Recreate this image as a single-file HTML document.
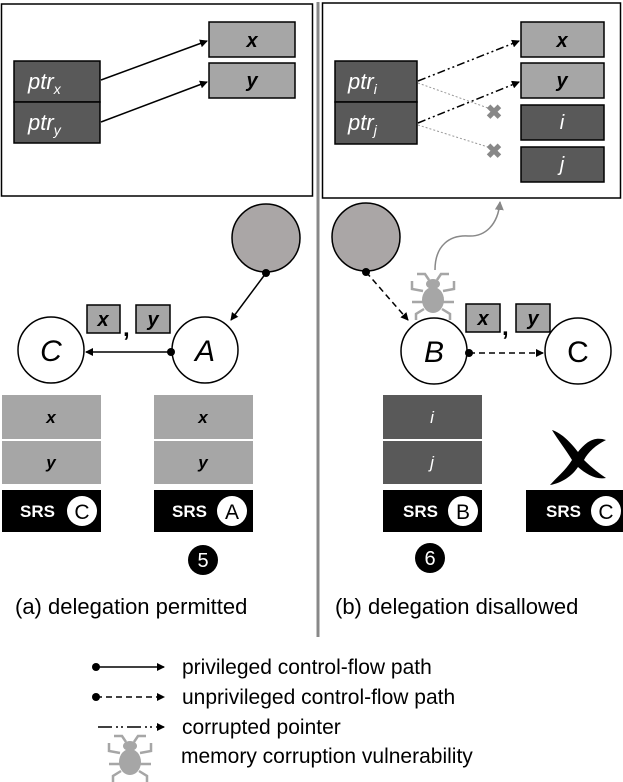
<!DOCTYPE html>
<html><head><style>
body{margin:0;background:#fff}
svg{display:block}
text{font-family:"Liberation Sans",sans-serif}
.it{font-style:italic;font-weight:bold}
</style></head><body>
<svg width="623" height="782" viewBox="0 0 623 782" xmlns="http://www.w3.org/2000/svg">
<defs>
<marker id="ah" markerWidth="8" markerHeight="8" refX="7" refY="4" orient="auto" markerUnits="userSpaceOnUse"><path d="M0,0 L8,4 L0,8 z" fill="#000"/></marker>
<marker id="ag" markerWidth="9" markerHeight="9" refX="8" refY="4.5" orient="auto" markerUnits="userSpaceOnUse"><path d="M0,0 L9,4.5 L0,9 z" fill="#888"/></marker>
<g id="bug" fill="#a6a6a6" stroke="#a6a6a6">
<ellipse cx="0" cy="-12" rx="7" ry="5" stroke="none"/>
<ellipse cx="0" cy="4" rx="11" ry="13" stroke="none"/>
<path d="M-4,-16 L-8,-22 L-16,-22 M4,-16 L8,-22 L16,-22 M-10,-5 L-21,-7 L-21,-15 M10,-5 L21,-7 L21,-15 M-10,6 L-21,6 M10,6 L21,6 M-9,13 L-17,18 L-17,24 M9,13 L17,18 L17,24" fill="none" stroke-width="2.5"/>
</g>
</defs>
<line x1="318" y1="2" x2="318" y2="637" stroke="#888" stroke-width="3"/>
<!-- left top box -->
<rect x="1.5" y="4" width="311" height="192" fill="#fff" stroke="#000" stroke-width="1.5"/>
<rect x="14" y="61" width="86" height="41" fill="#595959" stroke="#000" stroke-width="1.5"/>
<rect x="14" y="102" width="86" height="41" fill="#595959" stroke="#000" stroke-width="1.5"/>
<text x="28" y="89" fill="#fff" font-size="22" font-style="italic">ptr<tspan font-size="14" dy="5">x</tspan></text>
<text x="28" y="130" fill="#fff" font-size="22" font-style="italic">ptr<tspan font-size="14" dy="5">y</tspan></text>
<rect x="209" y="22" width="86" height="35" fill="#a6a6a6" stroke="#000" stroke-width="1.5"/>
<rect x="209" y="63" width="86" height="35" fill="#a6a6a6" stroke="#000" stroke-width="1.5"/>
<text x="252" y="47" class="it" font-size="20" text-anchor="middle">x</text>
<text x="252" y="87" class="it" font-size="20" text-anchor="middle">y</text>
<line x1="101" y1="80" x2="207" y2="41" stroke="#000" stroke-width="1.5" marker-end="url(#ah)"/>
<line x1="101" y1="122" x2="207" y2="82" stroke="#000" stroke-width="1.5" marker-end="url(#ah)"/>
<!-- right top box -->
<rect x="322.5" y="3" width="298" height="195" fill="#fff" stroke="#000" stroke-width="1.5"/>
<rect x="335" y="61" width="82" height="41" fill="#595959" stroke="#000" stroke-width="1.5"/>
<rect x="335" y="102" width="82" height="42" fill="#595959" stroke="#000" stroke-width="1.5"/>
<text x="348" y="89" fill="#fff" font-size="22" font-style="italic">ptr<tspan font-size="14" dy="5">i</tspan></text>
<text x="348" y="130" fill="#fff" font-size="22" font-style="italic">ptr<tspan font-size="14" dy="5">j</tspan></text>
<rect x="521" y="22" width="83" height="35" fill="#a6a6a6" stroke="#000" stroke-width="1.5"/>
<rect x="521" y="63" width="83" height="35" fill="#a6a6a6" stroke="#000" stroke-width="1.5"/>
<rect x="521" y="105" width="83" height="35" fill="#595959" stroke="#000" stroke-width="1.5"/>
<rect x="521" y="147" width="83" height="35" fill="#595959" stroke="#000" stroke-width="1.5"/>
<text x="562" y="47" class="it" font-size="20" text-anchor="middle">x</text>
<text x="562" y="87" class="it" font-size="20" text-anchor="middle">y</text>
<text x="562" y="129" font-size="20" font-style="italic" fill="#fff" text-anchor="middle">i</text>
<text x="562" y="171" font-size="20" font-style="italic" fill="#fff" text-anchor="middle">j</text>
<line x1="418" y1="81" x2="519" y2="41" stroke="#000" stroke-width="1.5" stroke-dasharray="8,3,2,3,2,3" marker-end="url(#ah)"/>
<line x1="418" y1="123" x2="519" y2="82" stroke="#000" stroke-width="1.5" stroke-dasharray="8,3,2,3,2,3" marker-end="url(#ah)"/>
<line x1="418" y1="83" x2="488" y2="108" stroke="#999" stroke-width="1" stroke-dasharray="2,2"/>
<line x1="418" y1="125" x2="488" y2="147" stroke="#999" stroke-width="1" stroke-dasharray="2,2"/>
<text x="494" y="119" font-size="20" font-weight="bold" fill="#888" text-anchor="middle">✖</text>
<text x="494" y="158" font-size="20" font-weight="bold" fill="#888" text-anchor="middle">✖</text>
<!-- left graph -->
<circle cx="266" cy="238" r="34" fill="#aaa6a6" stroke="#000" stroke-width="1.5"/>
<circle cx="266" cy="273" r="4" fill="#000"/>
<line x1="266" y1="273" x2="231" y2="320" stroke="#000" stroke-width="1.5" marker-end="url(#ah)"/>
<circle cx="205" cy="350" r="33" fill="#fff" stroke="#000" stroke-width="1.5"/>
<circle cx="51" cy="350" r="33" fill="#fff" stroke="#000" stroke-width="1.5"/>
<text x="205" y="361" font-size="30" font-style="italic" text-anchor="middle">A</text>
<text x="51" y="361" font-size="30" font-style="italic" text-anchor="middle">C</text>
<circle cx="171" cy="352" r="4" fill="#000"/>
<line x1="171" y1="352" x2="86" y2="352" stroke="#000" stroke-width="1.5" marker-end="url(#ah)"/>
<rect x="87" y="305" width="33" height="28" fill="#a6a6a6" stroke="#000" stroke-width="1.5"/>
<rect x="136" y="305" width="34" height="28" fill="#a6a6a6" stroke="#000" stroke-width="1.5"/>
<text x="103" y="326" class="it" font-size="20" text-anchor="middle">x</text>
<text x="153" y="326" class="it" font-size="20" text-anchor="middle">y</text>
<text x="123" y="336" font-size="24" font-weight="bold">,</text>
<!-- right graph -->
<circle cx="366" cy="237" r="34" fill="#aaa6a6" stroke="#000" stroke-width="1.5"/>
<circle cx="366" cy="272" r="4" fill="#000"/>
<line x1="366" y1="272" x2="408" y2="320" stroke="#000" stroke-width="1.5" stroke-dasharray="6,4" marker-end="url(#ah)"/>
<circle cx="434" cy="351" r="33" fill="#fff" stroke="#000" stroke-width="1.5"/>
<circle cx="578" cy="351" r="33" fill="#fff" stroke="#000" stroke-width="1.5"/>
<text x="434" y="362" font-size="30" font-style="italic" text-anchor="middle">B</text>
<text x="578" y="362" font-size="30" text-anchor="middle">C</text>
<circle cx="469" cy="353" r="4" fill="#000"/>
<line x1="469" y1="353" x2="543" y2="353" stroke="#000" stroke-width="1.5" stroke-dasharray="6,4" marker-end="url(#ah)"/>
<rect x="466" y="304" width="34" height="28" fill="#a6a6a6" stroke="#000" stroke-width="1.5"/>
<rect x="516" y="304" width="34" height="28" fill="#a6a6a6" stroke="#000" stroke-width="1.5"/>
<text x="483" y="325" class="it" font-size="20" text-anchor="middle">x</text>
<text x="533" y="325" class="it" font-size="20" text-anchor="middle">y</text>
<text x="502" y="335" font-size="24" font-weight="bold">,</text>
<path d="M435,270 C435,245 450,235 468,236 C485,237 498,225 500,202" fill="none" stroke="#888" stroke-width="1.5" marker-end="url(#ag)"/>
<use href="#bug" x="433" y="296"/>
<!-- stacks -->
<g font-size="17">
<rect x="2" y="395" width="99" height="44" fill="#a6a6a6"/><rect x="2" y="441" width="99" height="43" fill="#a6a6a6"/>
<text x="51" y="423" class="it" text-anchor="middle">x</text><text x="51" y="468" class="it" text-anchor="middle">y</text>
<rect x="154" y="395" width="99" height="44" fill="#a6a6a6"/><rect x="154" y="441" width="99" height="43" fill="#a6a6a6"/>
<text x="203" y="423" class="it" text-anchor="middle">x</text><text x="203" y="468" class="it" text-anchor="middle">y</text>
<rect x="383" y="395" width="99" height="44" fill="#595959"/><rect x="383" y="441" width="99" height="43" fill="#595959"/>
<text x="432" y="423" fill="#fff" font-style="italic" text-anchor="middle">i</text><text x="432" y="468" fill="#fff" font-style="italic" text-anchor="middle">j</text>
</g>
<g font-size="17" font-weight="bold">
<rect x="2" y="490" width="99" height="42" fill="#000"/>
<text x="20" y="517" fill="#fff">SRS</text><circle cx="82" cy="511" r="15" fill="#fff"/><text x="82" y="519" font-size="21" font-weight="normal" text-anchor="middle">C</text>
<rect x="154" y="490" width="99" height="42" fill="#000"/>
<text x="172" y="517" fill="#fff">SRS</text><circle cx="232" cy="511" r="15" fill="#fff"/><text x="232" y="519" font-size="21" font-weight="normal" text-anchor="middle">A</text>
<rect x="383" y="490" width="99" height="42" fill="#000"/>
<text x="403" y="517" fill="#fff">SRS</text><circle cx="463" cy="511" r="15" fill="#fff"/><text x="463" y="519" font-size="21" font-weight="normal" text-anchor="middle">B</text>
<rect x="526" y="490" width="97" height="42" fill="#000"/>
<text x="546" y="517" fill="#fff">SRS</text><circle cx="606" cy="511" r="15" fill="#fff"/><text x="606" y="519" font-size="21" font-weight="normal" text-anchor="middle">C</text>
</g>
<path d="M552,430 C562,433 572,444 578,452 C586,442 594,436 606,440 C596,445 588,452 584,460 C592,468 600,474 606,478 C596,480 586,474 578,467 C572,476 562,483 550,485 C556,478 566,470 572,460 C566,450 558,440 552,430 z" fill="#000"/>
<circle cx="203" cy="560" r="15" fill="#000"/><text x="203" y="567" fill="#fff" font-size="20" text-anchor="middle">5</text>
<circle cx="430" cy="558" r="15" fill="#000"/><text x="430" y="565" fill="#fff" font-size="20" text-anchor="middle">6</text>
<text x="15" y="614" font-size="22">(a) delegation permitted</text>
<text x="335" y="614" font-size="22">(b) delegation disallowed</text>
<!-- legend -->
<circle cx="96" cy="667" r="4" fill="#000"/><line x1="96" y1="667" x2="164" y2="667" stroke="#000" stroke-width="1.5" marker-end="url(#ah)"/>
<circle cx="96" cy="697" r="4" fill="#000"/><line x1="96" y1="697" x2="164" y2="697" stroke="#000" stroke-width="1.5" stroke-dasharray="6,4" marker-end="url(#ah)"/>
<line x1="98" y1="727" x2="164" y2="727" stroke="#000" stroke-width="1.5" stroke-dasharray="14,4,2,3,2,4" marker-end="url(#ah)"/>
<use href="#bug" x="130" y="758"/>
<g font-size="21">
<text x="182" y="674">privileged control-flow path</text>
<text x="182" y="704">unprivileged control-flow path</text>
<text x="182" y="734">corrupted pointer</text>
<text x="181" y="763">memory corruption vulnerability</text>
</g>
</svg>
</body></html>
